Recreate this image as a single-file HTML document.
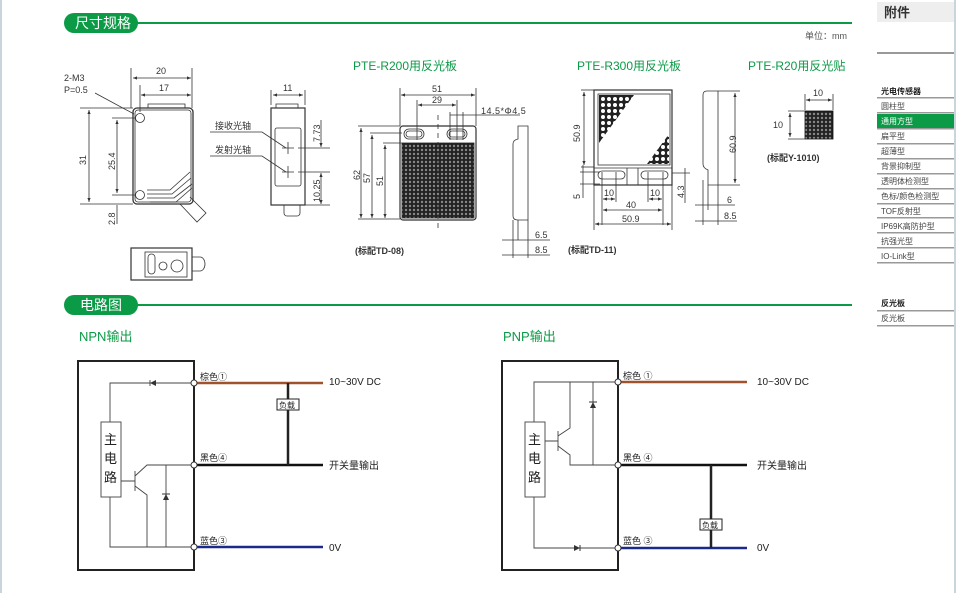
<!DOCTYPE html>
<html><head><meta charset="utf-8"><style>
html,body{margin:0;padding:0;background:#fff;}
svg{display:block;}
text{font-family:"Liberation Sans","Noto Sans CJK SC",sans-serif;}
</style></head><body>
<svg width="956" height="593" viewBox="0 0 956 593" xmlns="http://www.w3.org/2000/svg">
<defs>
<pattern id="dots" width="4" height="4" patternUnits="userSpaceOnUse"><rect width="4" height="4" fill="#222"/><circle cx="2" cy="2" r="1.2" fill="#888"/></pattern>
<pattern id="big" width="6" height="6" patternUnits="userSpaceOnUse"><rect width="6" height="6" fill="#222"/><circle cx="3" cy="3" r="2" fill="#fff"/></pattern>
<marker id="a" markerWidth="6" markerHeight="6" refX="5" refY="3" orient="auto-start-reverse"><path d="M0,1 L5,3 L0,5z" fill="#333"/></marker>
</defs>
<rect x="0" y="0" width="2" height="593" fill="#c9d5dd"/>
<rect x="954" y="0" width="2" height="593" fill="#c9d5dd"/>
<!-- headers -->
<line x1="130" y1="23" x2="852" y2="23" stroke="#0b9a46" stroke-width="2"/>
<rect x="64" y="13" width="74" height="20" rx="10" fill="#0b9a46"/>
<text x="75" y="28" font-size="14" fill="#fff">尺寸规格</text>
<line x1="130" y1="305" x2="852" y2="305" stroke="#0b9a46" stroke-width="2"/>
<rect x="64" y="295" width="74" height="20" rx="10" fill="#0b9a46"/>
<text x="80" y="310" font-size="14" fill="#fff">电路图</text>
<text x="805" y="39" font-size="9" fill="#555">单位：mm</text>
<!-- sidebar -->
<g font-size="8" fill="#444">
<rect x="877" y="2" width="77" height="20" fill="#eeeeee"/>
<text x="884" y="17" font-size="13" font-weight="bold" fill="#333">附件</text>
<rect x="877" y="52" width="77" height="2" fill="#999"/>
<text x="881" y="94" font-weight="bold" fill="#222">光电传感器</text>
<rect x="877" y="97" width="77" height="1.5" fill="#999"/>
<text x="881" y="109">圆柱型</text><rect x="877" y="112" width="77" height="1.5" fill="#999"/>
<rect x="877" y="114" width="77" height="14" fill="#0b9a46"/><text x="881" y="124" fill="#fff">通用方型</text>
<rect x="877" y="128" width="77" height="1.5" fill="#999"/>
<text x="881" y="139">扁平型</text><rect x="877" y="143" width="77" height="1.5" fill="#999"/>
<text x="881" y="154">超薄型</text><rect x="877" y="158" width="77" height="1.5" fill="#999"/>
<text x="881" y="169">背景抑制型</text><rect x="877" y="173" width="77" height="1.5" fill="#999"/>
<text x="881" y="184">透明体检测型</text><rect x="877" y="188" width="77" height="1.5" fill="#999"/>
<text x="881" y="199">色标/颜色检测型</text><rect x="877" y="203" width="77" height="1.5" fill="#999"/>
<text x="881" y="214">TOF反射型</text><rect x="877" y="217" width="77" height="1.5" fill="#999"/>
<text x="881" y="229">IP69K高防护型</text><rect x="877" y="232" width="77" height="1.5" fill="#999"/>
<text x="881" y="244">抗强光型</text><rect x="877" y="247" width="77" height="1.5" fill="#999"/>
<text x="881" y="259">IO-Link型</text><rect x="877" y="262" width="77" height="1.5" fill="#999"/>
<text x="881" y="306" font-weight="bold" fill="#222">反光板</text><rect x="877" y="310" width="77" height="1.5" fill="#999"/>
<text x="881" y="321">反光板</text><rect x="877" y="325" width="77" height="1.5" fill="#999"/>
</g>
<g stroke="#333" stroke-width="0.8" fill="none">
<!-- sensor front -->
<rect x="133" y="108" width="60" height="96" rx="4" stroke-width="1.3"/>
<rect x="135" y="110" width="56" height="92" rx="3"/>
<circle cx="140" cy="118" r="4.5"/><circle cx="140" cy="195" r="4.5"/>
<path d="M147 190 L170 190 L190 172 M147 194 L172 194 L191 178 M147 198 L174 198 L192 184 M150 202 L176 202 L192 188"/>
<path d="M180 204 L197 222 L206 213 L190 197"/>
<path d="M148 108 L148 104 L185 104 L185 108"/>
<line x1="131" y1="68" x2="131" y2="108"/><line x1="192" y1="68" x2="192" y2="108"/>
<line x1="133" y1="78" x2="191" y2="78" marker-start="url(#a)" marker-end="url(#a)"/>
<line x1="140" y1="85" x2="140" y2="112"/>
<line x1="141" y1="95" x2="191" y2="95" marker-start="url(#a)" marker-end="url(#a)"/>
<line x1="80" y1="108" x2="133" y2="108"/><line x1="80" y1="204" x2="133" y2="204"/>
<line x1="89" y1="110" x2="89" y2="202" marker-start="url(#a)" marker-end="url(#a)"/>
<line x1="112" y1="118" x2="136" y2="118"/><line x1="112" y1="195" x2="136" y2="195"/>
<line x1="117" y1="120" x2="117" y2="193" marker-start="url(#a)" marker-end="url(#a)"/>
<line x1="117" y1="205" x2="117" y2="224"/>
<line x1="95" y1="93" x2="134" y2="114"/>
<!-- bottom view -->
<rect x="131" y="248" width="61" height="32" stroke-width="1.2"/>
<rect x="145" y="252" width="42" height="25"/>
<rect x="148" y="254" width="7" height="20" rx="3.5"/>
<circle cx="163" cy="266" r="4"/><circle cx="177" cy="266" r="6"/>
<path d="M192 257 L200 257 A5 7 0 0 1 200 271 L192 271"/>
<!-- side view -->
<rect x="271" y="108" width="34" height="97" stroke-width="1.2"/>
<rect x="275" y="128" width="26" height="58" rx="2"/>
<path d="M284 205 L284 213 A3 3 0 0 0 287 216 L297 216 A3 3 0 0 0 300 213 L300 205"/>
<path d="M276 108 L276 104 L298 104 L298 108"/>
<line x1="271" y1="90" x2="271" y2="105"/><line x1="305" y1="90" x2="305" y2="105"/>
<line x1="273" y1="95" x2="303" y2="95" marker-start="url(#a)" marker-end="url(#a)"/>
<path d="M282 148 L294 148 M288 142 L288 154 M282 172 L294 172 M288 166 L288 178"/>
<path d="M210 132 L262 132 L286 148 M210 156 L262 156 L286 172"/>
<line x1="298" y1="148" x2="330" y2="148"/><line x1="298" y1="172" x2="330" y2="172"/><line x1="305" y1="205" x2="330" y2="205"/>
<line x1="321" y1="120" x2="321" y2="147" marker-end="url(#a)"/>
<line x1="321" y1="173" x2="321" y2="204" marker-start="url(#a)" marker-end="url(#a)"/>
<!-- R200 -->
<rect x="400" y="126" width="76" height="94" rx="3" stroke-width="1.2"/>
<rect x="402" y="143" width="72" height="75" fill="url(#dots)" stroke="#222"/>
<rect x="404" y="129" width="20" height="10" rx="5"/><rect x="406" y="131" width="16" height="6" rx="3"/>
<rect x="447" y="129" width="20" height="10" rx="5"/><rect x="449" y="131" width="16" height="6" rx="3"/>
<line x1="438" y1="115" x2="438" y2="228" stroke-dasharray="5,4"/>
<line x1="400" y1="88" x2="400" y2="126"/><line x1="476" y1="88" x2="476" y2="126"/>
<line x1="401" y1="95" x2="475" y2="95" marker-start="url(#a)" marker-end="url(#a)"/>
<line x1="417" y1="100" x2="417" y2="140"/><line x1="457" y1="100" x2="457" y2="140"/>
<line x1="418" y1="105" x2="456" y2="105" marker-start="url(#a)" marker-end="url(#a)"/>
<line x1="450" y1="112" x2="450" y2="140"/><line x1="463" y1="112" x2="463" y2="140"/>
<line x1="450" y1="115" x2="520" y2="115"/>
<line x1="358" y1="126" x2="400" y2="126"/><line x1="370" y1="133" x2="402" y2="133"/><line x1="383" y1="143" x2="402" y2="143"/>
<line x1="358" y1="219" x2="400" y2="219"/>
<line x1="361" y1="128" x2="361" y2="218" marker-start="url(#a)" marker-end="url(#a)"/>
<line x1="372" y1="135" x2="372" y2="218" marker-start="url(#a)" marker-end="url(#a)"/>
<line x1="385" y1="145" x2="385" y2="218" marker-start="url(#a)" marker-end="url(#a)"/>
<path d="M518 126 L528 126 L528 220 L518 220 Q513 220 513 216 L513 144 Q513 140 518 139z"/>
<line x1="513" y1="220" x2="513" y2="258"/><line x1="518" y1="220" x2="518" y2="240"/><line x1="528" y1="220" x2="528" y2="258"/>
<line x1="502" y1="240" x2="550" y2="240"/><line x1="502" y1="255" x2="550" y2="255"/>
<!-- R300 -->
<rect x="594" y="90" width="78" height="95" stroke-width="1.2"/>
<rect x="598" y="94" width="72" height="71"/>
<line x1="594" y1="168" x2="672" y2="168"/>
<path d="M599 95 L634 95 L599 143z" fill="url(#big)" stroke="none"/>
<path d="M669 134 L669 164 L647 164z" fill="url(#big)" stroke="none"/>
<rect x="598" y="171" width="27" height="8" rx="4"/><rect x="641" y="171" width="27" height="8" rx="4"/>
<line x1="627" y1="168" x2="627" y2="185"/><line x1="638" y1="168" x2="638" y2="185"/>
<line x1="581" y1="90" x2="594" y2="90"/><line x1="581" y1="167" x2="594" y2="167"/>
<line x1="584" y1="92" x2="584" y2="165" marker-start="url(#a)" marker-end="url(#a)"/>
<line x1="580" y1="172" x2="600" y2="172"/><line x1="580" y1="184" x2="600" y2="184"/>
<line x1="583" y1="165" x2="583" y2="198"/>
<line x1="602" y1="172" x2="602" y2="225"/><line x1="616" y1="172" x2="616" y2="202"/>
<line x1="603" y1="199" x2="615" y2="199" marker-start="url(#a)" marker-end="url(#a)"/>
<line x1="648" y1="172" x2="648" y2="202"/><line x1="663" y1="172" x2="663" y2="225"/>
<line x1="649" y1="199" x2="662" y2="199" marker-start="url(#a)" marker-end="url(#a)"/>
<line x1="603" y1="210" x2="662" y2="210" marker-start="url(#a)" marker-end="url(#a)"/>
<line x1="594" y1="185" x2="594" y2="230"/><line x1="672" y1="185" x2="672" y2="230"/>
<line x1="595" y1="224" x2="671" y2="224" marker-start="url(#a)" marker-end="url(#a)"/>
<line x1="672" y1="173" x2="690" y2="173"/><line x1="685" y1="168" x2="685" y2="203"/>
<path d="M707 91 L718 91 L718 185 L708 185 L708 170 Q703 168 703 164 L703 95 Q703 91 707 91z"/>
<line x1="718" y1="91" x2="740" y2="91"/><line x1="718" y1="185" x2="740" y2="185"/>
<line x1="735" y1="93" x2="735" y2="183" marker-start="url(#a)" marker-end="url(#a)"/>
<line x1="703" y1="180" x2="703" y2="225"/><line x1="708" y1="185" x2="708" y2="210"/><line x1="718" y1="185" x2="718" y2="225"/>
<line x1="695" y1="205" x2="735" y2="205"/><line x1="695" y1="221" x2="737" y2="221"/>
<!-- R20 -->
<rect x="805" y="111" width="28" height="28" fill="url(#dots)" stroke="#111"/>
<line x1="805" y1="94" x2="805" y2="110"/><line x1="833" y1="94" x2="833" y2="110"/>
<line x1="806" y1="100" x2="832" y2="100" marker-start="url(#a)" marker-end="url(#a)"/>
<line x1="788" y1="111" x2="805" y2="111"/><line x1="788" y1="139" x2="805" y2="139"/>
<line x1="790" y1="113" x2="790" y2="137" marker-start="url(#a)" marker-end="url(#a)"/>
</g>
<g font-size="9" fill="#333">
<text x="64" y="81">2-M3</text><text x="64" y="93">P=0.5</text>
<text x="156" y="74">20</text><text x="159" y="91">17</text>
<text transform="translate(86,165) rotate(-90)">31</text>
<text transform="translate(115,170) rotate(-90)">25.4</text>
<text transform="translate(115,225) rotate(-90)">2.8</text>
<text x="283" y="91">11</text>
<text x="215" y="129">接收光轴</text><text x="215" y="153">发射光轴</text>
<text transform="translate(320,142) rotate(-90)">7.73</text>
<text transform="translate(320,202) rotate(-90)">10.25</text>
<text x="432" y="92">51</text><text x="432" y="103">29</text>
<text x="481" y="114" font-family="Liberation Mono,monospace" letter-spacing="0.5">14.5*Φ4.5</text>
<text transform="translate(360,180) rotate(-90)">62</text>
<text transform="translate(370,183) rotate(-90)">57</text>
<text transform="translate(383,186) rotate(-90)">51</text>
<text x="535" y="238">6.5</text><text x="535" y="253">8.5</text>
<text transform="translate(580,142) rotate(-90)">50.9</text>
<text transform="translate(580,199) rotate(-90)">5</text>
<text x="604" y="196">10</text><text x="650" y="196">10</text>
<text x="626" y="208">40</text><text x="622" y="222">50.9</text>
<text transform="translate(684,198) rotate(-90)">4.3</text>
<text transform="translate(736,153) rotate(-90)">60.9</text>
<text x="727" y="203">6</text><text x="724" y="219">8.5</text>
<text x="813" y="96">10</text><text x="773" y="128">10</text>
<text x="355" y="254" font-weight="bold">(标配TD-08)</text>
<text x="568" y="253" font-weight="bold">(标配TD-11)</text>
<text x="767" y="161" font-weight="bold">(标配Y-1010)</text>
</g>
<g font-size="12" fill="#0b9a46">
<text x="353" y="70">PTE-R200用反光板</text>
<text x="577" y="70">PTE-R300用反光板</text>
<text x="748" y="70">PTE-R20用反光贴</text>
<text x="79" y="341" font-size="13">NPN输出</text>
<text x="503" y="341" font-size="13">PNP输出</text>
</g>
<!-- NPN -->
<g stroke="#222" fill="none">
<rect x="78" y="361" width="116" height="209" stroke-width="2"/>
<line x1="194" y1="383" x2="323" y2="383" stroke="#a0522d" stroke-width="2.5"/>
<line x1="194" y1="465" x2="323" y2="465" stroke="#111" stroke-width="2.5"/>
<line x1="194" y1="547" x2="323" y2="547" stroke="#1a2a8a" stroke-width="2.5"/>
<line x1="288" y1="383" x2="288" y2="465" stroke-width="2.5"/>
<rect x="277" y="399" width="22" height="11" fill="#fff" stroke-width="1"/>
<g stroke-width="0.9" stroke="#444">
<path d="M110 422 L110 383 L191 383 M110 497 L110 547 L191 547"/>
<rect x="101" y="422" width="20" height="75" fill="#fff"/>
<path d="M121 481 L135 481 M135 471 L135 491 M135 476 L147 465 L191 465 M135 486 L147 495 L147 547 M166 465 L166 547"/>
<path d="M150 380 L150 386"/>
</g>
</g>
<path d="M156 380 L156 386 L150 383z" fill="#333"/>
<path d="M163 500 L169 500 L166 494z" fill="#333"/><line x1="162" y1="494" x2="170" y2="494" stroke="#333"/>
<g fill="#fff" stroke="#333"><circle cx="194" cy="383" r="3"/><circle cx="194" cy="465" r="3"/><circle cx="194" cy="547" r="3"/></g>
<!-- PNP -->
<g stroke="#222" fill="none">
<rect x="502" y="361" width="116" height="209" stroke-width="2"/>
<line x1="618" y1="382" x2="747" y2="382" stroke="#a0522d" stroke-width="2.5"/>
<line x1="618" y1="465" x2="747" y2="465" stroke="#111" stroke-width="2.5"/>
<line x1="618" y1="548" x2="747" y2="548" stroke="#1a2a8a" stroke-width="2.5"/>
<line x1="711" y1="465" x2="711" y2="548" stroke-width="2.5"/>
<rect x="700" y="519" width="22" height="11" fill="#fff" stroke-width="1"/>
<g stroke-width="0.9" stroke="#444">
<path d="M534 422 L534 382 L615 382 M534 497 L534 548 L615 548"/>
<rect x="525" y="422" width="20" height="75" fill="#fff"/>
<path d="M545 441 L558 441 M558 431 L558 451 M558 436 L570 428 L570 382 M558 446 L570 455 L570 465 L615 465 M593 382 L593 465"/>
</g>
</g>
<path d="M590 408 L596 408 L593 402z" fill="#333"/><line x1="589" y1="402" x2="597" y2="402" stroke="#333"/>
<path d="M574 545 L574 551 L580 548z" fill="#333"/><line x1="580" y1="545" x2="580" y2="551" stroke="#333"/>
<g fill="#fff" stroke="#333"><circle cx="618" cy="382" r="3"/><circle cx="618" cy="465" r="3"/><circle cx="618" cy="548" r="3"/></g>
<g font-size="9" fill="#222">
<text x="200" y="380">棕色①</text><text x="200" y="461">黑色④</text><text x="200" y="544">蓝色③</text>
<text x="279" y="408" font-size="8">负载</text>
<text x="329" y="385" font-size="10">10~30V DC</text><text x="329" y="469" font-size="10">开关量输出</text><text x="329" y="551" font-size="10">0V</text>
<text x="104" y="444" font-size="13">主</text><text x="104" y="463" font-size="13">电</text><text x="104" y="482" font-size="13">路</text>
<text x="623" y="379">棕色 ①</text><text x="623" y="461">黑色 ④</text><text x="623" y="544">蓝色 ③</text>
<text x="702" y="528" font-size="8">负载</text>
<text x="757" y="385" font-size="10">10~30V DC</text><text x="757" y="469" font-size="10">开关量输出</text><text x="757" y="551" font-size="10">0V</text>
<text x="528" y="444" font-size="13">主</text><text x="528" y="463" font-size="13">电</text><text x="528" y="482" font-size="13">路</text>
</g>
</svg>
</body></html>
